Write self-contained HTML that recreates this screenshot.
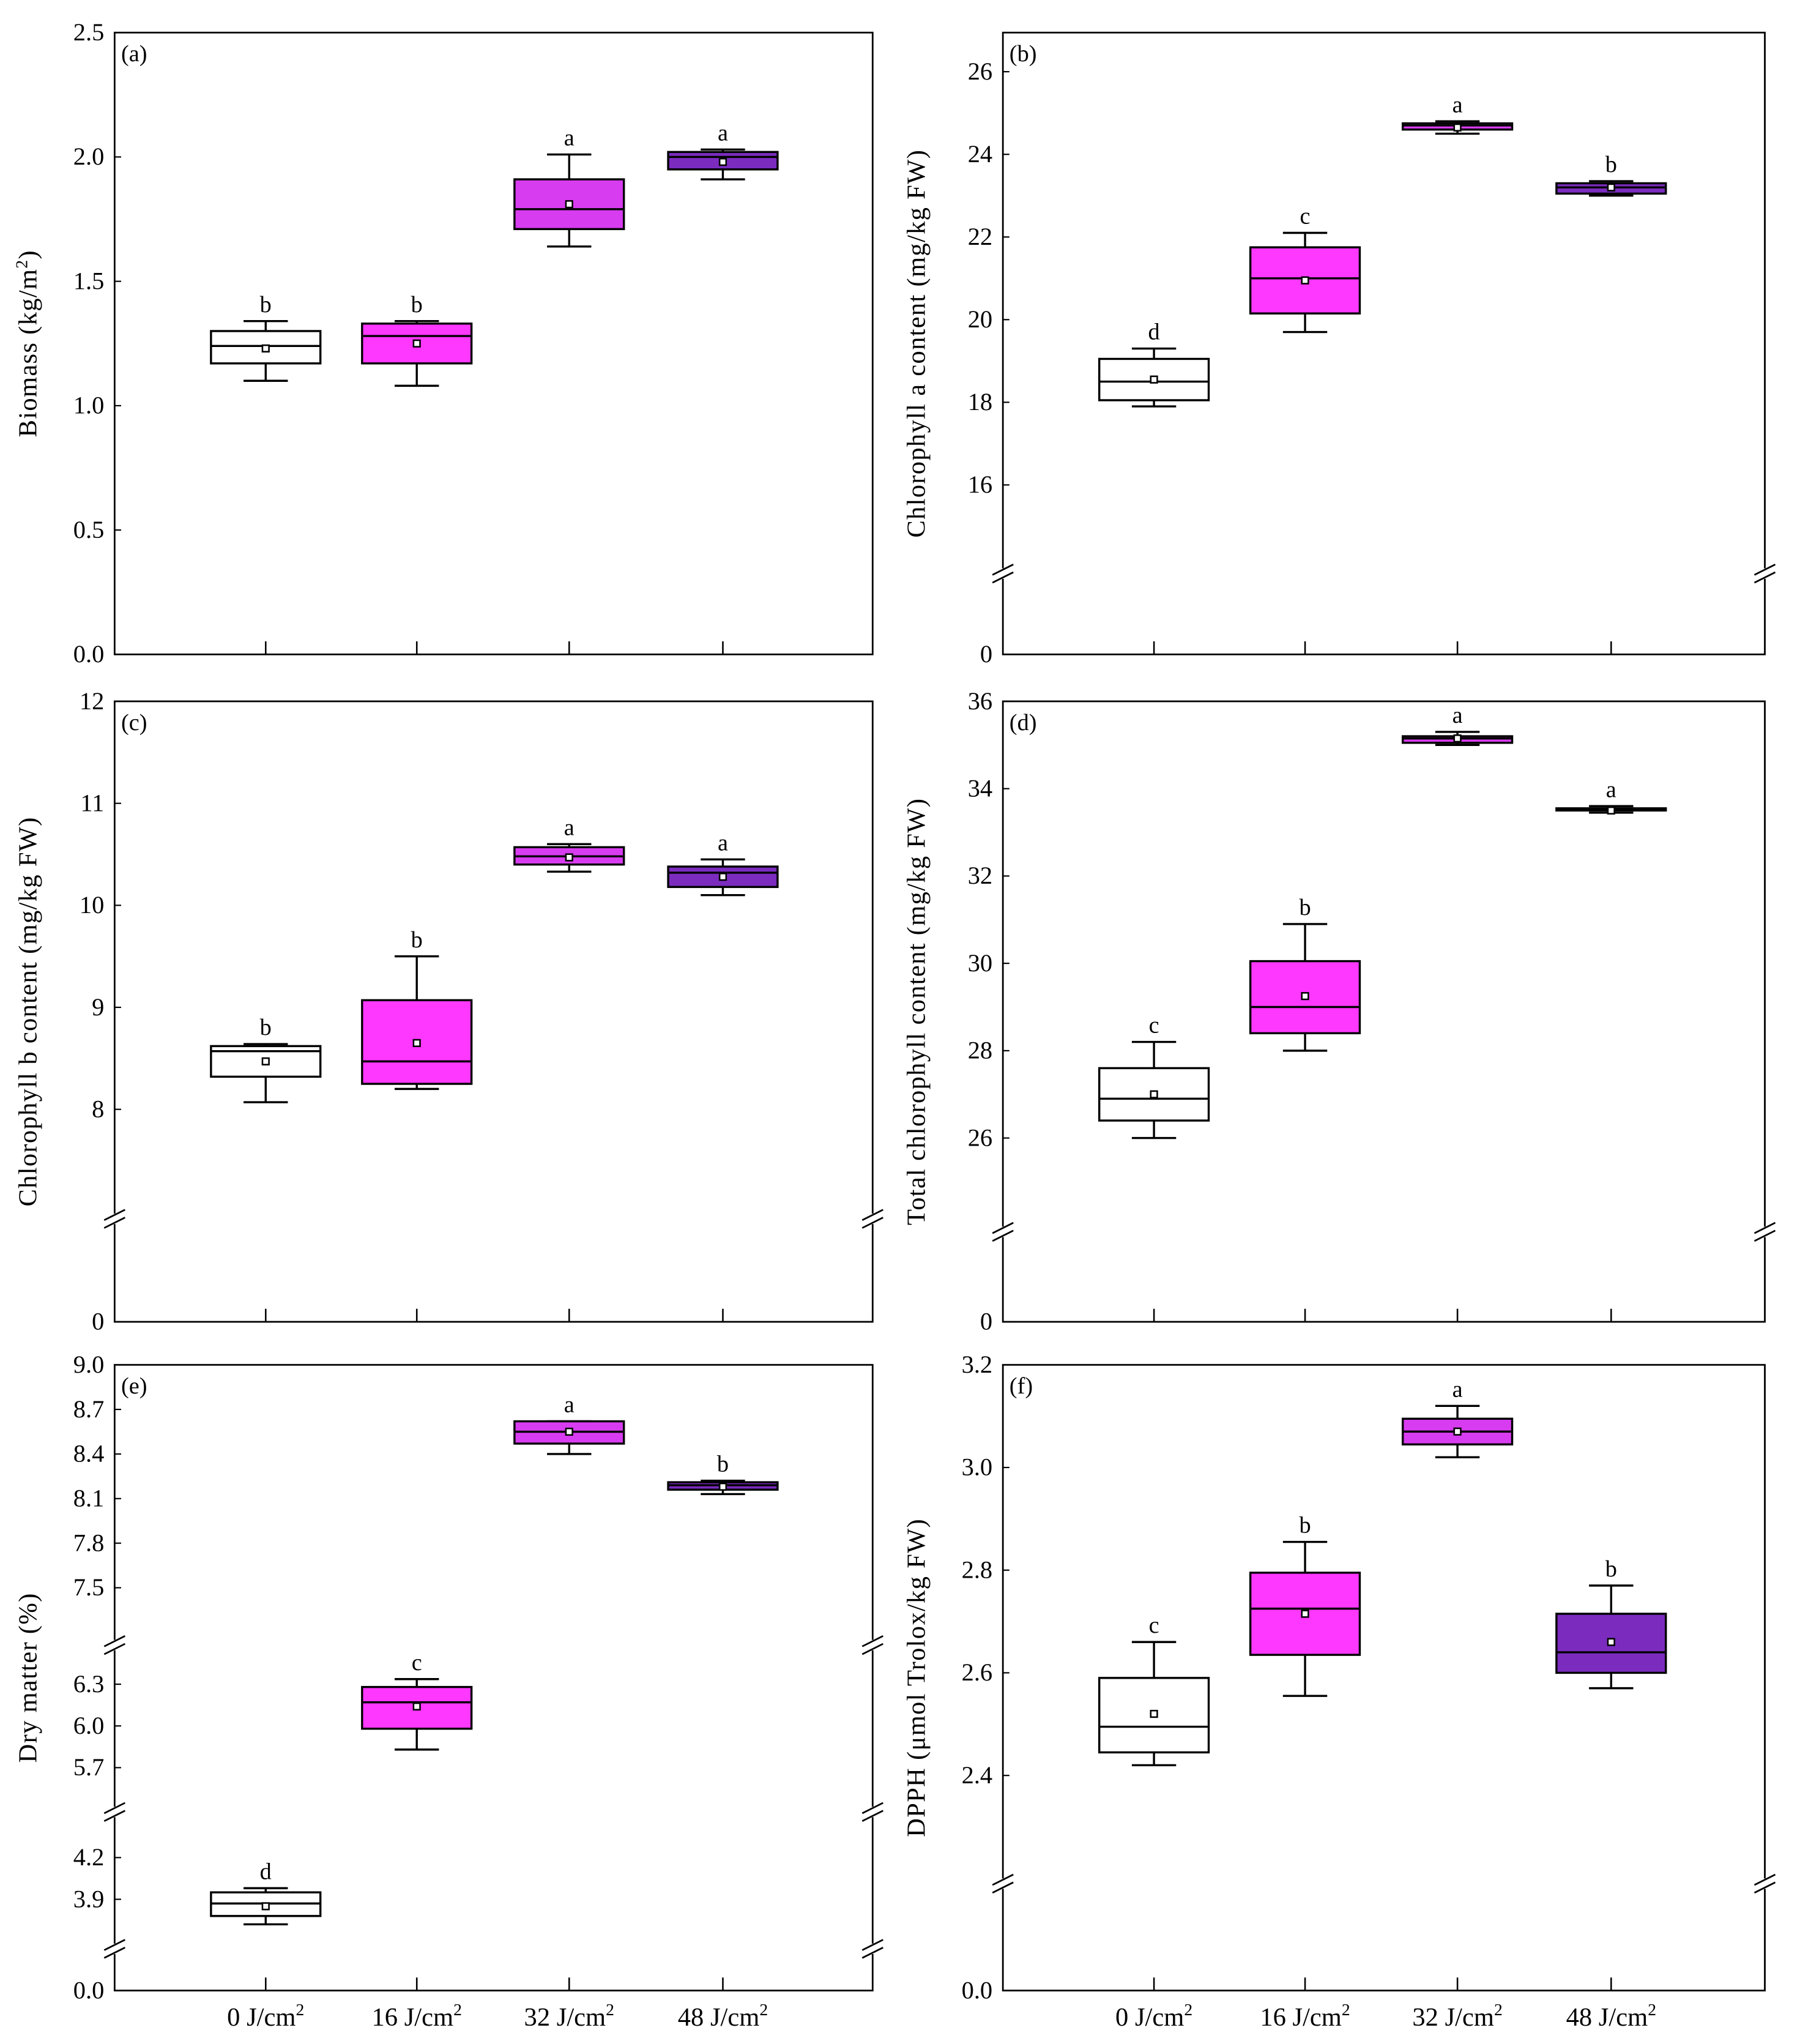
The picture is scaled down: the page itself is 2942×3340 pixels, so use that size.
<!DOCTYPE html>
<html><head><meta charset="utf-8"><style>
html,body{margin:0;padding:0;background:#fff;}
svg{display:block;}
text{font-family:"Liberation Serif",serif;fill:#000;}
</style></head><body>
<svg id="fig" width="2942" height="3340" viewBox="0 0 1382 1568" preserveAspectRatio="none" xmlns="http://www.w3.org/2000/svg"></svg>
<script>
const categories = ["0 J/cm", "16 J/cm", "32 J/cm", "48 J/cm"];
const boxColors = ["#ffffff", "#ff38ff", "#d83cf0", "#7b2cbf"];

const biomassMin = [1.10, 1.08, 1.64, 1.91];
const biomassQ1 = [1.17, 1.17, 1.71, 1.95];
const biomassMed = [1.24, 1.28, 1.79, 2.00];
const biomassQ3 = [1.30, 1.33, 1.91, 2.02];
const biomassMax = [1.34, 1.34, 2.01, 2.03];
const biomassMean = [1.23, 1.25, 1.81, 1.98];
const biomassLetters = ["b", "b", "a", "a"];
const biomassTicks = [0.0, 0.5, 1.0, 1.5, 2.0, 2.5];

const chlAMin = [17.9, 19.7, 24.5, 23.0];
const chlAQ1 = [18.05, 20.15, 24.6, 23.05];
const chlAMed = [18.5, 21.0, 24.7, 23.2];
const chlAQ3 = [19.05, 21.75, 24.75, 23.3];
const chlAMax = [19.3, 22.1, 24.8, 23.35];
const chlAMean = [18.55, 20.95, 24.65, 23.2];
const chlALetters = ["d", "c", "a", "b"];
const chlATicks = [0, 16, 18, 20, 22, 24, 26];

const chlBMin = [8.07, 8.2, 10.33, 10.1];
const chlBQ1 = [8.32, 8.25, 10.4, 10.18];
const chlBMed = [8.57, 8.47, 10.48, 10.32];
const chlBQ3 = [8.62, 9.07, 10.57, 10.38];
const chlBMax = [8.64, 9.5, 10.6, 10.45];
const chlBMean = [8.47, 8.65, 10.47, 10.28];
const chlBLetters = ["b", "b", "a", "a"];
const chlBTicks = [0, 8, 9, 10, 11, 12];

const totMin = [26.0, 28.0, 35.0, 33.45];
const totQ1 = [26.4, 28.4, 35.05, 33.5];
const totMed = [26.9, 29.0, 35.15, 33.52];
const totQ3 = [27.6, 30.05, 35.2, 33.55];
const totMax = [28.2, 30.9, 35.3, 33.6];
const totMean = [27.0, 29.25, 35.15, 33.5];
const totLetters = ["c", "b", "a", "a"];
const totTicks = [0, 26, 28, 30, 32, 34, 36];

const dryMin = [3.72, 5.83, 8.40, 8.13];
const dryQ1 = [3.78, 5.98, 8.47, 8.16];
const dryMed = [3.87, 6.17, 8.55, 8.19];
const dryQ3 = [3.95, 6.28, 8.62, 8.21];
const dryMax = [3.98, 6.41, 8.62, 8.22];
const dryMean = [3.85, 6.14, 8.55, 8.18];
const dryLetters = ["d", "c", "a", "b"];
const dryTicks = [0.0, 3.9, 4.2, 5.7, 6.0, 6.3, 7.5, 7.8, 8.1, 8.4, 8.7, 9.0];

const dpphMin = [2.42, 2.555, 3.02, 2.57];
const dpphQ1 = [2.445, 2.635, 3.045, 2.60];
const dpphMed = [2.495, 2.725, 3.07, 2.64];
const dpphQ3 = [2.59, 2.795, 3.095, 2.715];
const dpphMax = [2.66, 2.855, 3.12, 2.77];
const dpphMean = [2.52, 2.715, 3.07, 2.66];
const dpphLetters = ["c", "b", "a", "b"];
const dpphTicks = [0.0, 2.4, 2.6, 2.8, 3.0, 3.2];

const NS = "http://www.w3.org/2000/svg";
const svg = document.getElementById("fig");
function mk(tag, attrs, parent) {
  const e = document.createElementNS(NS, tag);
  for (const k in attrs) e.setAttribute(k, attrs[k]);
  (parent || svg).appendChild(e);
  return e;
}

function makeScale(segs) {
  return function (v) {
    for (const s of segs) {
      const lo = Math.min(s[0], s[1]), hi = Math.max(s[0], s[1]);
      if (v >= lo - 1e-9 && v <= hi + 1e-9) return s[2] + (v - s[0]) / (s[1] - s[0]) * (s[3] - s[2]);
    }
    const s = segs[segs.length - 1];
    return s[2] + (v - s[0]) / (s[1] - s[0]) * (s[3] - s[2]);
  };
}

function panel(cfg) {
  const g = mk("g", {});
  
  
  const L = cfg.left, R = cfg.right, T = cfg.top, B = cfg.bottom;
  const y = makeScale(cfg.segs);
  const xs = [0, 1, 2, 3].map(i => L + (R - L) * cfg.xf[i]);
  const frame = mk("rect", {x: L, y: T, width: R - L, height: B - T, fill: "none", stroke: "#000", "stroke-width": 1.3}, g);
  
  
  cfg.breaks.forEach(by => {
    [L, R].forEach(bx => {
      mk("rect", {x: bx - 3, y: by - 4, width: 6, height: 8, fill: "#fff"}, g);
      const b1 = mk("line", {x1: bx - 8, y1: by + 1, x2: bx + 8, y2: by - 7, stroke: "#000", "stroke-width": 1.3}, g);
      
      
      mk("line", {x1: bx - 8, y1: by + 7, x2: bx + 8, y2: by - 1, stroke: "#000", "stroke-width": 1.3}, g);
    });
  });
  cfg.ticks.forEach(v => {
    const py = y(v);
    mk("line", {x1: L, y1: py, x2: L + 5, y2: py, stroke: "#000", "stroke-width": 1}, g);
    const t = mk("text", {x: L - 8, y: py + 6, "text-anchor": "end", "font-size": 19}, g);
    t.textContent = v.toFixed(cfg.dec);
    
    
  });
  const yt = mk("text", {x: 0, y: 0, "text-anchor": "middle", "font-size": 20, "letter-spacing": 0.6,
    transform: "translate(" + (L - 60) + "," + ((T + B) / 2) + ") rotate(-90)"}, g);
  
  
  yt.textContent = cfg.title;
  if (cfg.sup) {
    const ts = mk("tspan", {"font-size": 13, dy: -7}, yt); ts.textContent = cfg.sup;
    const te = mk("tspan", {dy: 7}, yt); te.textContent = cfg.after;
  }
  const pl = mk("text", {x: L + 5, y: T + 22, "font-size": 18}, g);
  pl.textContent = cfg.label;
  
  
  const hw = 42, cw = 17;
  for (let i = 0; i < 4; i++) {
    const cx = xs[i];
    mk("line", {x1: cx, y1: B, x2: cx, y2: B - 10, stroke: "#000", "stroke-width": 1.2}, g);
    const bg = mk("g", {}, g);
    
    
    const st = {stroke: "#000", "stroke-width": 1.6};
    mk("line", Object.assign({x1: cx, y1: y(cfg.max[i]), x2: cx, y2: y(cfg.q3[i])}, st), bg);
    mk("line", Object.assign({x1: cx, y1: y(cfg.min[i]), x2: cx, y2: y(cfg.q1[i])}, st), bg);
    mk("line", Object.assign({x1: cx - cw, y1: y(cfg.max[i]), x2: cx + cw, y2: y(cfg.max[i])}, st), bg);
    mk("line", Object.assign({x1: cx - cw, y1: y(cfg.min[i]), x2: cx + cw, y2: y(cfg.min[i])}, st), bg);
    const yq3 = y(cfg.q3[i]), yq1 = y(cfg.q1[i]);
    mk("rect", Object.assign({x: cx - hw, y: yq3, width: 2 * hw, height: Math.max(1, yq1 - yq3), fill: boxColors[i]}, st), bg);
    mk("line", Object.assign({x1: cx - hw, y1: y(cfg.med[i]), x2: cx + hw, y2: y(cfg.med[i])}, st), bg);
    mk("rect", {x: cx - 2.5, y: y(cfg.mean[i]) - 2.5, width: 5, height: 5, fill: "#fff", stroke: "#000", "stroke-width": 1.2}, bg);
    const lt = mk("text", {x: cx, y: y(cfg.max[i]) - 7, "text-anchor": "middle", "font-size": 18}, g);
    lt.textContent = cfg.letters[i];
    
    
    if (cfg.xlabels) {
      const xl = mk("text", {x: cx, y: B + 27, "text-anchor": "middle", "font-size": 20}, g);
      
      
      xl.textContent = categories[i];
      const s = mk("tspan", {"font-size": 13, dy: -8}, xl); s.textContent = "2";
    }
  }
}

const xfL = [116 / 582, 232 / 582, 349 / 582, 467 / 582];
const xfR = [116 / 585, 232 / 585, 349 / 585, 467 / 585];

panel({name: "panel-a-biomass", label: "(a)", left: 88, right: 670, top: 25, bottom: 502, xf: xfL,
  segs: [[0, 2.5, 502, 25]], breaks: [], ticks: biomassTicks, dec: 1,
  title: "Biomass (kg/m", sup: "2", after: ")",
  min: biomassMin, q1: biomassQ1, med: biomassMed, q3: biomassQ3, max: biomassMax, mean: biomassMean, letters: biomassLetters});
panel({name: "panel-b-chlorophyll-a", label: "(b)", left: 770, right: 1355, top: 25, bottom: 502, xf: xfR,
  segs: [[16, 26, 372, 55], [0, 16, 502, 440]], breaks: [440], ticks: chlATicks, dec: 0,
  title: "Chlorophyll a content (mg/kg FW)",
  min: chlAMin, q1: chlAQ1, med: chlAMed, q3: chlAQ3, max: chlAMax, mean: chlAMean, letters: chlALetters});
panel({name: "panel-c-chlorophyll-b", label: "(c)", left: 88, right: 670, top: 538, bottom: 1014, xf: xfL,
  segs: [[8, 12, 851, 538], [0, 8, 1014, 935]], breaks: [935], ticks: chlBTicks, dec: 0,
  title: "Chlorophyll b content (mg/kg FW)",
  min: chlBMin, q1: chlBQ1, med: chlBMed, q3: chlBQ3, max: chlBMax, mean: chlBMean, letters: chlBLetters});
panel({name: "panel-d-total-chlorophyll", label: "(d)", left: 770, right: 1355, top: 538, bottom: 1014, xf: xfR,
  segs: [[26, 36, 873, 538], [0, 26, 1014, 945]], breaks: [945], ticks: totTicks, dec: 0,
  title: "Total chlorophyll  content (mg/kg FW)",
  min: totMin, q1: totQ1, med: totMed, q3: totQ3, max: totMax, mean: totMean, letters: totLetters});
panel({name: "panel-e-dry-matter", label: "(e)", left: 88, right: 670, top: 1047, bottom: 1527, xf: xfL, xlabels: true,
  segs: [[7.5, 9.0, 1218, 1047], [5.7, 6.3, 1356, 1292], [3.9, 4.2, 1457, 1425],
         [7.2, 7.5, 1252, 1218], [6.3, 7.2, 1292, 1260], [4.2, 5.7, 1390, 1356], [3.6, 3.9, 1489, 1457], [0, 3.6, 1527, 1495]],
  breaks: [1262, 1390, 1495], ticks: dryTicks, dec: 1,
  title: "Dry matter  (%)",
  min: dryMin, q1: dryQ1, med: dryMed, q3: dryQ3, max: dryMax, mean: dryMean, letters: dryLetters});
panel({name: "panel-f-dpph", label: "(f)", left: 770, right: 1355, top: 1047, bottom: 1527, xf: xfR, xlabels: true,
  segs: [[2.4, 3.2, 1362, 1047], [2.2, 2.4, 1440, 1362], [0, 2.2, 1527, 1445]], breaks: [1445], ticks: dpphTicks, dec: 1,
  title: "DPPH (μmol Trolox/kg FW)",
  min: dpphMin, q1: dpphQ1, med: dpphMed, q3: dpphQ3, max: dpphMax, mean: dpphMean, letters: dpphLetters});
</script>
</body></html>
